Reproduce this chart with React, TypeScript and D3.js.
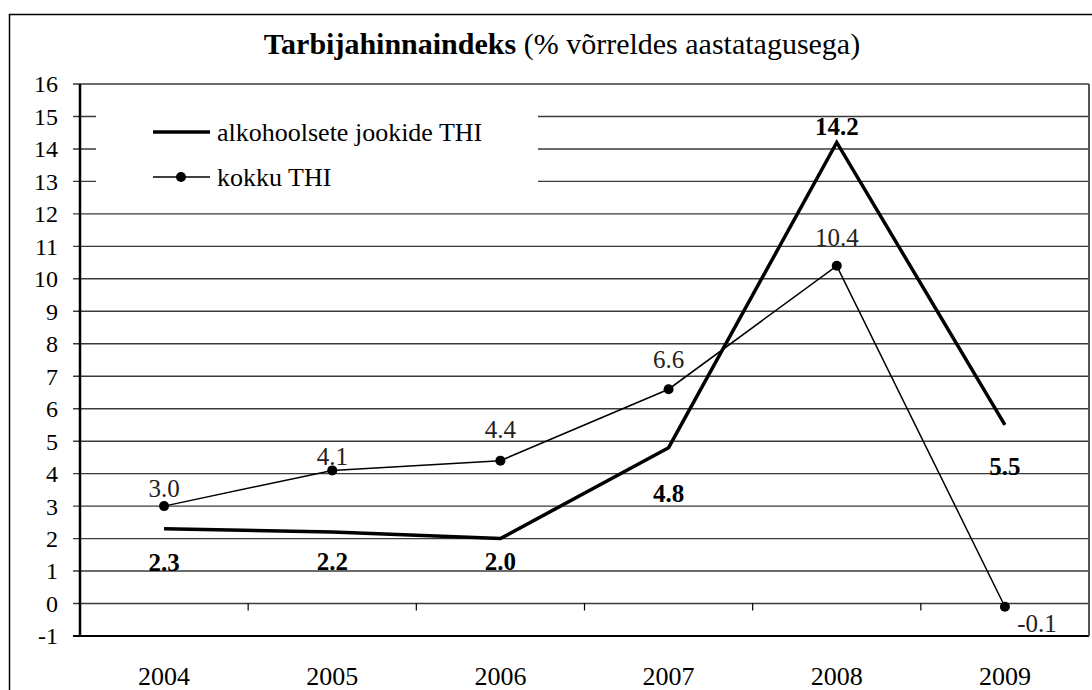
import * as d3 from "d3";

const years = ["2004", "2005", "2006", "2007", "2008", "2009"];
const alcoholValues = [2.3, 2.2, 2.0, 4.8, 14.2, 5.5];
const totalValues = [3.0, 4.1, 4.4, 6.6, 10.4, -0.1];
const yTicks = d3.range(-1, 17);

// label offsets (px, relative to the point) as placed in the original
const alcoholLabelDy = [42, 38, 31, 54, -7, 50];
const totalLabelDy = [-9, -5, -23, -21, -20, 25];
const totalLabelDx = [0, 0, 0, 0, 0, 32];

const FONT = "Liberation Serif";
const ts = { fontFamily: FONT };

export default function App() {
  const W = 1092;
  const H = 690;
  const left = 80;
  const right = 1089;
  const top = 84;
  const bottom = 636;

  const x = d3.scaleBand<string>().domain(years).range([left, right]);
  const cx = (d: string) => (x(d) as number) + x.bandwidth() / 2;
  const y = d3.scaleLinear().domain([-1, 16]).range([bottom, top]);

  const line = d3
    .line<number>()
    .x((_, i) => cx(years[i]))
    .y((d) => y(d));

  return (
    <svg
      width={W}
      height={H}
      style={{ display: "block", position: "absolute", left: 0, top: 0, background: "#fff" }}
    >
      <rect x={9.5} y={14.5} width={1100} height={700} fill="#fff" stroke="#000" strokeWidth={1.5} />

      <text x={562} y={54} textAnchor="middle" fontSize={30} style={ts}>
        <tspan fontWeight="bold">Tarbijahinnaindeks</tspan>
        <tspan> (% võrreldes aastatagusega)</tspan>
      </text>

      {/* gridlines */}
      {yTicks.map((t) => (
        <line
          key={"g" + t}
          x1={left - 7}
          x2={right}
          y1={y(t)}
          y2={y(t)}
          stroke={t === -1 ? "#000" : "#3a3a3a"}
          strokeWidth={t === -1 ? 2 : 1.4}
        />
      ))}
      <line x1={right} x2={right} y1={top} y2={bottom} stroke="#555" strokeWidth={2} />
      <line x1={left} x2={left} y1={top} y2={bottom} stroke="#000" strokeWidth={2.5} />

      {/* y labels */}
      {yTicks.map((t) => (
        <text key={"l" + t} x={58} y={y(t)} dy="0.35em" textAnchor="end" fontSize={24} style={ts}>
          {t}
        </text>
      ))}

      {/* x ticks on zero line */}
      {years.slice(1).map((d) => (
        <line
          key={"t" + d}
          x1={x(d) as number}
          x2={x(d) as number}
          y1={y(0)}
          y2={y(0) + 7}
          stroke="#000"
          strokeWidth={1.2}
        />
      ))}
      {years.map((d) => (
        <text key={"x" + d} x={cx(d)} y={685} textAnchor="middle" fontSize={26} style={ts}>
          {d}
        </text>
      ))}

      {/* legend */}
      <rect x={96} y={96} width={442} height={104} fill="#fff" />
      <line x1={153} x2={210} y1={132} y2={132} stroke="#000" strokeWidth={3.5} />
      <text x={217} y={132} dy="0.33em" fontSize={26} style={ts}>alkohoolsete jookide THI</text>
      <line x1={153} x2={210} y1={177} y2={177} stroke="#000" strokeWidth={1.5} />
      <circle cx={181} cy={177} r={5} fill="#000" />
      <text x={217} y={177} dy="0.33em" fontSize={26} style={ts}>kokku THI</text>

      {/* series */}
      <path d={line(alcoholValues) as string} fill="none" stroke="#000" strokeWidth={3.5} />
      <path d={line(totalValues) as string} fill="none" stroke="#000" strokeWidth={1.5} />
      {totalValues.map((v, i) => (
        <circle key={"c" + i} cx={cx(years[i])} cy={y(v)} r={5} fill="#000" />
      ))}

      {/* labels */}
      {alcoholValues.map((v, i) => (
        <text
          key={"al" + i}
          x={cx(years[i])}
          y={y(v) + alcoholLabelDy[i]}
          textAnchor="middle"
          fontSize={25}
          fontWeight="bold"
          style={ts}
        >
          {v.toFixed(1)}
        </text>
      ))}
      {totalValues.map((v, i) => (
        <text
          key={"tl" + i}
          x={cx(years[i]) + totalLabelDx[i]}
          y={y(v) + totalLabelDy[i]}
          textAnchor="middle"
          fontSize={25}
          fill="#222"
          style={ts}
        >
          {v.toFixed(1)}
        </text>
      ))}
    </svg>
  );
}
